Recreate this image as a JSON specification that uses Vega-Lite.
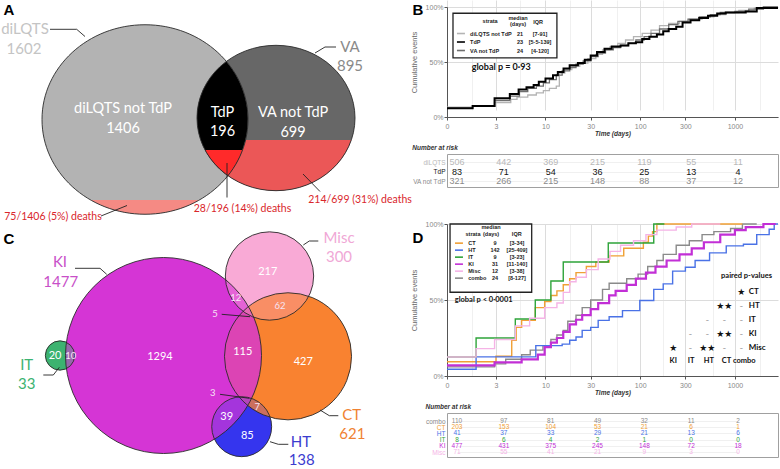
{
"$schema":"https://vega.github.io/schema/vega-lite/v6.json",
"padding":0,
"autosize":{"type":"pad"},
"background":"white",
"config":{"font":"Liberation Sans","view":{"stroke":null},"text":{"font":"Lato"},"axis":{"labelFont":"Liberation Sans","titleFont":"Liberation Sans"}},
"datasets":{
"aSets":[{"set":"VA","n":895,"x":276,"y":118},{"set":"diLQTS","n":1602,"x":145,"y":119.5}],
"aLeaders":[{"id":"L1","i":1,"x":50,"y":29.3},{"id":"L1","i":2,"x":76.7,"y":29.3},{"id":"L1","i":3,"x":85,"y":36.5},{"id":"L2","i":1,"x":315,"y":53},{"id":"L2","i":2,"x":325,"y":47},{"id":"L2","i":3,"x":336,"y":47},{"id":"L3","i":1,"x":101,"y":216},{"id":"L3","i":2,"x":127,"y":205.5},{"id":"L4","i":1,"x":227,"y":163},{"id":"L4","i":2,"x":227,"y":197.5},{"id":"L5","i":1,"x":303,"y":174},{"id":"L5","i":2,"x":320,"y":191.5}],
"aText":[{"t":"diLQTS not TdP","g":"inner","x":123,"y":109},{"t":"1406","g":"inner","x":123,"y":128.5},{"t":"TdP","g":"inner","x":222.5,"y":112.5},{"t":"196","g":"inner","x":222.5,"y":132},{"t":"VA not TdP","g":"inner","x":293,"y":113},{"t":"699","g":"inner","x":293,"y":132.5},{"t":"diLQTS","g":"diLQTS","x":25,"y":29},{"t":"1602","g":"diLQTS","x":24,"y":49},{"t":"VA","g":"VA","x":350,"y":47},{"t":"895","g":"VA","x":350,"y":66},{"t":"75/1406 (5%) deaths","g":"death","x":53,"y":216.5},{"t":"28/196 (14%) deaths","g":"death","x":242.5,"y":208.5},{"t":"214/699 (31%) deaths","g":"death","x":360,"y":199.5},{"t":"A","g":"panel","x":9,"y":10},{"t":"B","g":"panel","x":418,"y":10}],
"cSets":[{"set":"Misc","n":300,"x":269.5,"y":46},{"set":"HT","n":138,"x":241.7,"y":196.7},{"set":"CT","n":621,"x":288,"y":126.3},{"set":"IT","n":33,"x":60,"y":125.5},{"set":"KI","n":1477,"x":163.5,"y":125.5}],
"cLeaders":[{"id":"KI","i":1,"x":75,"y":38.3},{"id":"KI","i":2,"x":100,"y":38.3},{"id":"KI","i":3,"x":106.7,"y":44.3},{"id":"Misc","i":1,"x":303.3,"y":15},{"id":"Misc","i":2,"x":309.3,"y":11},{"id":"Misc","i":3,"x":318.3,"y":11},{"id":"CT","i":1,"x":320,"y":180},{"id":"CT","i":2,"x":329.3,"y":185.7},{"id":"CT","i":3,"x":338.3,"y":185.7},{"id":"HT","i":1,"x":270,"y":211.7},{"id":"HT","i":2,"x":278.3,"y":214.3},{"id":"HT","i":3,"x":288.3,"y":214.3},{"id":"IT","i":1,"x":43.3,"y":145},{"id":"IT","i":2,"x":53.3,"y":145},{"id":"IT","i":3,"x":59.3,"y":137.3},{"id":"n5","i":1,"x":221.7,"y":84.3},{"id":"n5","i":2,"x":250,"y":86.7},{"id":"n3","i":1,"x":220,"y":164.3},{"id":"n3","i":2,"x":249.3,"y":168.3}],
"cNums":[{"n":1294,"x":160,"y":127.3},{"n":217,"x":267.7,"y":41.7},{"n":12,"x":235.7,"y":68.3},{"n":62,"x":280,"y":76},{"n":5,"x":215,"y":84.3},{"n":115,"x":242.7,"y":121.7},{"n":427,"x":303.3,"y":131.7},{"n":20,"x":55,"y":125.7},{"n":10,"x":70.7,"y":125.7},{"n":3,"x":212.7,"y":163.3},{"n":7,"x":257.3,"y":176.7},{"n":39,"x":226.7,"y":187.3},{"n":85,"x":247.3,"y":205.7}],
"cText":[{"t":"KI","set":"KI","x":60,"y":31.7},{"t":"1477","set":"KI","x":60.7,"y":51.7},{"t":"Misc","set":"Misc","x":339,"y":7.7},{"t":"300","set":"Misc","x":339,"y":26.7},{"t":"IT","set":"IT","x":26.7,"y":135},{"t":"33","set":"IT","x":26.7,"y":154},{"t":"CT","set":"CT","x":351.7,"y":185},{"t":"621","set":"CT","x":352.3,"y":204.3},{"t":"HT","set":"HT","x":301,"y":211.7},{"t":"138","set":"HT","x":301.7,"y":230},{"t":"C","set":"panel","x":9,"y":9},{"t":"D","set":"panel","x":418,"y":8}],
"bKM":[
{"s":"diLQTS not TdP","t":0.912,"p":9},{"s":"diLQTS not TdP","t":1.7,"p":10},{"s":"diLQTS not TdP","t":2.9,"p":13},{"s":"diLQTS not TdP","t":4.3,"p":16},{"s":"diLQTS not TdP","t":5,"p":18},{"s":"diLQTS not TdP","t":6.5,"p":20},{"s":"diLQTS not TdP","t":8,"p":22},{"s":"diLQTS not TdP","t":9.5,"p":24},{"s":"diLQTS not TdP","t":11,"p":26},{"s":"diLQTS not TdP","t":13,"p":28},{"s":"diLQTS not TdP","t":14,"p":40},{"s":"diLQTS not TdP","t":16,"p":43},{"s":"diLQTS not TdP","t":19,"p":46},{"s":"diLQTS not TdP","t":23,"p":49},{"s":"diLQTS not TdP","t":28,"p":53},{"s":"diLQTS not TdP","t":34,"p":57},{"s":"diLQTS not TdP","t":40,"p":61},{"s":"diLQTS not TdP","t":48,"p":64},{"s":"diLQTS not TdP","t":58,"p":67},{"s":"diLQTS not TdP","t":70,"p":70},{"s":"diLQTS not TdP","t":85,"p":73},{"s":"diLQTS not TdP","t":105,"p":76},{"s":"diLQTS not TdP","t":130,"p":79},{"s":"diLQTS not TdP","t":160,"p":83},{"s":"diLQTS not TdP","t":200,"p":85},{"s":"diLQTS not TdP","t":260,"p":87},{"s":"diLQTS not TdP","t":330,"p":89},{"s":"diLQTS not TdP","t":450,"p":91},{"s":"diLQTS not TdP","t":600,"p":93},{"s":"diLQTS not TdP","t":800,"p":95},{"s":"diLQTS not TdP","t":1100,"p":97},{"s":"diLQTS not TdP","t":1600,"p":99},{"s":"diLQTS not TdP","t":2000,"p":100},{"s":"diLQTS not TdP","t":2851,"p":100},
{"s":"VA not TdP","t":0.912,"p":8},{"s":"VA not TdP","t":1.7,"p":10},{"s":"VA not TdP","t":2.9,"p":15},{"s":"VA not TdP","t":4.2,"p":19},{"s":"VA not TdP","t":5.3,"p":23},{"s":"VA not TdP","t":6.5,"p":26},{"s":"VA not TdP","t":8,"p":28},{"s":"VA not TdP","t":9.5,"p":31},{"s":"VA not TdP","t":11,"p":34},{"s":"VA not TdP","t":13,"p":38},{"s":"VA not TdP","t":15,"p":42},{"s":"VA not TdP","t":18,"p":45},{"s":"VA not TdP","t":21,"p":48},{"s":"VA not TdP","t":25,"p":51},{"s":"VA not TdP","t":30,"p":55},{"s":"VA not TdP","t":36,"p":58},{"s":"VA not TdP","t":43,"p":61},{"s":"VA not TdP","t":52,"p":63},{"s":"VA not TdP","t":62,"p":65},{"s":"VA not TdP","t":75,"p":67},{"s":"VA not TdP","t":90,"p":70},{"s":"VA not TdP","t":110,"p":73},{"s":"VA not TdP","t":130,"p":76},{"s":"VA not TdP","t":160,"p":80},{"s":"VA not TdP","t":200,"p":84},{"s":"VA not TdP","t":250,"p":87},{"s":"VA not TdP","t":320,"p":89},{"s":"VA not TdP","t":420,"p":91},{"s":"VA not TdP","t":550,"p":93},{"s":"VA not TdP","t":700,"p":95},{"s":"VA not TdP","t":1000,"p":96},{"s":"VA not TdP","t":1400,"p":98},{"s":"VA not TdP","t":2000,"p":100},{"s":"VA not TdP","t":2851,"p":100},
{"s":"TdP","t":0.912,"p":8},{"s":"TdP","t":1.7,"p":10},{"s":"TdP","t":2.9,"p":17},{"s":"TdP","t":4.2,"p":21},{"s":"TdP","t":5.2,"p":25},{"s":"TdP","t":6.3,"p":27},{"s":"TdP","t":7.5,"p":29},{"s":"TdP","t":8.5,"p":32},{"s":"TdP","t":10,"p":35},{"s":"TdP","t":12,"p":38},{"s":"TdP","t":13.5,"p":41},{"s":"TdP","t":15.5,"p":44},{"s":"TdP","t":18,"p":47},{"s":"TdP","t":22,"p":49},{"s":"TdP","t":26,"p":52},{"s":"TdP","t":30,"p":56},{"s":"TdP","t":35,"p":59},{"s":"TdP","t":42,"p":62},{"s":"TdP","t":50,"p":64},{"s":"TdP","t":62,"p":65},{"s":"TdP","t":75,"p":67},{"s":"TdP","t":90,"p":68},{"s":"TdP","t":105,"p":71},{"s":"TdP","t":125,"p":73},{"s":"TdP","t":150,"p":75},{"s":"TdP","t":175,"p":78},{"s":"TdP","t":200,"p":80},{"s":"TdP","t":240,"p":82},{"s":"TdP","t":280,"p":86},{"s":"TdP","t":340,"p":88},{"s":"TdP","t":420,"p":90},{"s":"TdP","t":520,"p":92},{"s":"TdP","t":650,"p":94},{"s":"TdP","t":800,"p":95},{"s":"TdP","t":1300,"p":96},{"s":"TdP","t":1700,"p":99},{"s":"TdP","t":2851,"p":99}],
"bLeg":[{"s":"diLQTS not TdP","m":"21","q":"[7-91]"},{"s":"TdP","m":"23","q":"[5·5-139]"},{"s":"VA not TdP","m":"24","q":"[4-120]"}],
"bRisk":[
{"s":"diLQTS","time":0,"n":506},{"s":"diLQTS","time":3,"n":442},{"s":"diLQTS","time":10,"n":369},{"s":"diLQTS","time":30,"n":215},{"s":"diLQTS","time":100,"n":119},{"s":"diLQTS","time":300,"n":55},{"s":"diLQTS","time":1000,"n":11},
{"s":"TdP","time":0,"n":83},{"s":"TdP","time":3,"n":71},{"s":"TdP","time":10,"n":54},{"s":"TdP","time":30,"n":36},{"s":"TdP","time":100,"n":25},{"s":"TdP","time":300,"n":13},{"s":"TdP","time":1000,"n":4},
{"s":"VA not TdP","time":0,"n":321},{"s":"VA not TdP","time":3,"n":266},{"s":"VA not TdP","time":10,"n":215},{"s":"VA not TdP","time":30,"n":148},{"s":"VA not TdP","time":100,"n":88},{"s":"VA not TdP","time":300,"n":37},{"s":"VA not TdP","time":1000,"n":12}],
"dKM":[
{"s":"combo","t":0.912,"p":6},{"s":"combo","t":2.9,"p":8},{"s":"combo","t":3.8,"p":11},{"s":"combo","t":5.6,"p":14},{"s":"combo","t":6.9,"p":17},{"s":"combo","t":9.4,"p":20},{"s":"combo","t":11.4,"p":24},{"s":"combo","t":13.2,"p":27},{"s":"combo","t":15.4,"p":30},{"s":"combo","t":17.2,"p":36},{"s":"combo","t":21,"p":40},{"s":"combo","t":24.4,"p":45},{"s":"combo","t":30,"p":50},{"s":"combo","t":40,"p":57},{"s":"combo","t":47,"p":61},{"s":"combo","t":72,"p":64},{"s":"combo","t":95,"p":67},{"s":"combo","t":120,"p":72},{"s":"combo","t":150,"p":76},{"s":"combo","t":175,"p":80},{"s":"combo","t":240,"p":86},{"s":"combo","t":330,"p":89},{"s":"combo","t":450,"p":93},{"s":"combo","t":600,"p":95},{"s":"combo","t":900,"p":97},{"s":"combo","t":1200,"p":100},{"s":"combo","t":1700,"p":100},
{"s":"CT","t":0.912,"p":9.4},{"s":"CT","t":3,"p":13},{"s":"CT","t":4.4,"p":23.5},{"s":"CT","t":4.9,"p":32},{"s":"CT","t":5.6,"p":36.6},{"s":"CT","t":7.8,"p":45},{"s":"CT","t":9.8,"p":49},{"s":"CT","t":11.4,"p":53},{"s":"CT","t":13.2,"p":56},{"s":"CT","t":15.4,"p":60},{"s":"CT","t":18,"p":64},{"s":"CT","t":21,"p":68},{"s":"CT","t":27,"p":72},{"s":"CT","t":34,"p":75},{"s":"CT","t":47,"p":79},{"s":"CT","t":67,"p":84},{"s":"CT","t":108,"p":88},{"s":"CT","t":122,"p":92},{"s":"CT","t":135,"p":95},{"s":"CT","t":150,"p":100},{"s":"CT","t":1200,"p":100},
{"s":"HT","t":0.912,"p":4.4},{"s":"HT","t":1.85,"p":12.6},{"s":"HT","t":7.9,"p":20},{"s":"HT","t":15,"p":21},{"s":"HT","t":18,"p":23.5},{"s":"HT","t":21,"p":25.7},{"s":"HT","t":24.4,"p":30},{"s":"HT","t":30,"p":32},{"s":"HT","t":36,"p":36.6},{"s":"HT","t":47,"p":39},{"s":"HT","t":65,"p":43},{"s":"HT","t":99,"p":49.7},{"s":"HT","t":139,"p":57},{"s":"HT","t":175,"p":60.6},{"s":"HT","t":220,"p":69},{"s":"HT","t":300,"p":71.5},{"s":"HT","t":380,"p":76},{"s":"HT","t":540,"p":81},{"s":"HT","t":810,"p":85.6},{"s":"HT","t":1230,"p":86.7},{"s":"HT","t":1700,"p":93},{"s":"HT","t":2300,"p":96.5},{"s":"HT","t":2600,"p":100},{"s":"HT","t":2851,"p":100},
{"s":"IT","t":0.912,"p":12.5},{"s":"IT","t":1.85,"p":25},{"s":"IT","t":4.8,"p":37.5},{"s":"IT","t":7.8,"p":50},{"s":"IT","t":11.4,"p":62.5},{"s":"IT","t":15.4,"p":75},{"s":"IT","t":46,"p":87.5},{"s":"IT","t":139,"p":100},{"s":"IT","t":180,"p":100},
{"s":"Misc","t":0.912,"p":12.5},{"s":"Misc","t":1.85,"p":18},{"s":"Misc","t":2.9,"p":24},{"s":"Misc","t":4.8,"p":33},{"s":"Misc","t":6.8,"p":38},{"s":"Misc","t":9.8,"p":45},{"s":"Misc","t":13.2,"p":48},{"s":"Misc","t":15.4,"p":55},{"s":"Misc","t":18,"p":62},{"s":"Misc","t":21,"p":65},{"s":"Misc","t":27,"p":70},{"s":"Misc","t":36,"p":77},{"s":"Misc","t":48,"p":82},{"s":"Misc","t":62,"p":86},{"s":"Misc","t":85,"p":89},{"s":"Misc","t":115,"p":93},{"s":"Misc","t":150,"p":96},{"s":"Misc","t":240,"p":98},{"s":"Misc","t":350,"p":100},{"s":"Misc","t":700,"p":100},
{"s":"KI","t":0.912,"p":7},{"s":"KI","t":2.9,"p":9},{"s":"KI","t":5.6,"p":11},{"s":"KI","t":8.3,"p":14},{"s":"KI","t":9.8,"p":19},{"s":"KI","t":11.4,"p":22},{"s":"KI","t":13.2,"p":25},{"s":"KI","t":15.4,"p":29},{"s":"KI","t":18,"p":34},{"s":"KI","t":21,"p":37},{"s":"KI","t":24.4,"p":40},{"s":"KI","t":30,"p":44},{"s":"KI","t":36,"p":48},{"s":"KI","t":47,"p":53},{"s":"KI","t":55,"p":56},{"s":"KI","t":72,"p":60},{"s":"KI","t":90,"p":64},{"s":"KI","t":115,"p":68},{"s":"KI","t":145,"p":72},{"s":"KI","t":190,"p":76},{"s":"KI","t":260,"p":80},{"s":"KI","t":350,"p":84},{"s":"KI","t":470,"p":88},{"s":"KI","t":700,"p":93},{"s":"KI","t":1000,"p":96},{"s":"KI","t":1300,"p":98},{"s":"KI","t":2000,"p":100},{"s":"KI","t":2700,"p":100}],
"dLeg":[{"s":"CT","m":"9","q":"[3-34]"},{"s":"HT","m":"142","q":"[25-409]"},{"s":"IT","m":"9","q":"[3-23]"},{"s":"KI","m":"31","q":"[11-140]"},{"s":"Misc","m":"12","q":"[3-38]"},{"s":"combo","m":"24","q":"[8-127]"}],
"dRisk":[
{"s":"combo","time":0,"n":110},{"s":"combo","time":3,"n":97},{"s":"combo","time":10,"n":81},{"s":"combo","time":30,"n":49},{"s":"combo","time":100,"n":32},{"s":"combo","time":300,"n":11},{"s":"combo","time":1000,"n":2},
{"s":"CT","time":0,"n":203},{"s":"CT","time":3,"n":153},{"s":"CT","time":10,"n":104},{"s":"CT","time":30,"n":53},{"s":"CT","time":100,"n":21},{"s":"CT","time":300,"n":6},{"s":"CT","time":1000,"n":1},
{"s":"HT","time":0,"n":41},{"s":"HT","time":3,"n":37},{"s":"HT","time":10,"n":33},{"s":"HT","time":30,"n":29},{"s":"HT","time":100,"n":21},{"s":"HT","time":300,"n":13},{"s":"HT","time":1000,"n":6},
{"s":"IT","time":0,"n":8},{"s":"IT","time":3,"n":6},{"s":"IT","time":10,"n":4},{"s":"IT","time":30,"n":2},{"s":"IT","time":100,"n":1},{"s":"IT","time":300,"n":0},{"s":"IT","time":1000,"n":0},
{"s":"KI","time":0,"n":477},{"s":"KI","time":3,"n":431},{"s":"KI","time":10,"n":375},{"s":"KI","time":30,"n":245},{"s":"KI","time":100,"n":148},{"s":"KI","time":300,"n":72},{"s":"KI","time":1000,"n":18},
{"s":"Misc","time":0,"n":71},{"s":"Misc","time":3,"n":55},{"s":"Misc","time":10,"n":41},{"s":"Misc","time":30,"n":21},{"s":"Misc","time":100,"n":9},{"s":"Misc","time":300,"n":3},{"s":"Misc","time":1000,"n":0}],
"dPair":[{"row":"CT","col":"combo","sig":"★"},{"row":"HT","col":"CT","sig":"★★"},{"row":"HT","col":"combo","sig":"-"},{"row":"IT","col":"HT","sig":"-"},{"row":"IT","col":"CT","sig":"-"},{"row":"IT","col":"combo","sig":"-"},{"row":"KI","col":"IT","sig":"-"},{"row":"KI","col":"HT","sig":"-"},{"row":"KI","col":"CT","sig":"★★"},{"row":"KI","col":"combo","sig":"-"},{"row":"Misc","col":"KI","sig":"★"},{"row":"Misc","col":"IT","sig":"-"},{"row":"Misc","col":"HT","sig":"★★"},{"row":"Misc","col":"CT","sig":"-"},{"row":"Misc","col":"combo","sig":"-"}],
"dRows":[{"row":"CT"},{"row":"HT"},{"row":"IT"},{"row":"KI"},{"row":"Misc"}],
"dCols":[{"col":"KI"},{"col":"IT"},{"col":"HT"},{"col":"CT"},{"col":"combo"}]
},
"spacing":7,
"bounds":"flush",
"resolve":{"scale":{"x":"independent","y":"independent","color":"independent","fill":"independent","size":"independent","xOffset":"independent","yOffset":"independent"}},
"hconcat":[
{"width":440,"height":469,
"encoding":{"x":{"field":"x","type":"quantitative","scale":{"domain":[0,440],"nice":false,"zero":false},"axis":null}},
"resolve":{"scale":{"y":"independent","size":"independent","fill":"independent","color":"independent"}},
"layer":[
{"encoding":{"y":{"field":"y","type":"quantitative","scale":{"domain":[0,230],"range":[0,230],"nice":false,"zero":false},"axis":null}},
"layer":[
{"data":{"name":"aSets"},"transform":[{"filter":"datum.set == 'VA'"}],"mark":{"type":"point","shape":"M 1 0 C 1 0.5081 0.5523 0.92 0 0.92 C -0.5523 0.92 -1 0.5081 -1 0 C -1 -0.5081 -0.5523 -0.92 0 -0.92 C 0.5523 -0.92 1 -0.5081 1 0 Z","filled":true,"fill":"#676767","opacity":1},"encoding":{"size":{"field":"n","type":"quantitative","scale":{"domain":[895,1602],"range":[24964,42436],"zero":false,"nice":false},"legend":null}}},
{"data":{"name":"aSets"},"transform":[{"filter":"datum.set == 'VA'"}],"mark":{"type":"point","shape":"M -0.9531 0.2785 A 1 0.92 0 0 0 0.9531 0.2785 Z","filled":true,"fill":"#eb5757","opacity":1},"encoding":{"size":{"field":"n","type":"quantitative","scale":{"domain":[895,1602],"range":[24964,42436],"zero":false,"nice":false},"legend":null}}},
{"data":{"name":"aSets"},"transform":[{"filter":"datum.set == 'diLQTS'"}],"mark":{"type":"point","shape":"M 1 0 C 1 0.5081 0.5523 0.92 0 0.92 C -0.5523 0.92 -1 0.5081 -1 0 C -1 -0.5081 -0.5523 -0.92 0 -0.92 C 0.5523 -0.92 1 -0.5081 1 0 Z","filled":true,"fill":"#b3b3b3","opacity":1},"encoding":{"size":{"field":"n","type":"quantitative","scale":{"domain":[895,1602],"range":[24964,42436],"zero":false,"nice":false},"legend":null}}},
{"data":{"name":"aSets"},"transform":[{"filter":"datum.set == 'diLQTS'"}],"mark":{"type":"point","shape":"M -0.5275 0.7816 A 1 0.92 0 0 0 0.5275 0.7816 Z","filled":true,"fill":"#f58a84","opacity":1},"encoding":{"size":{"field":"n","type":"quantitative","scale":{"domain":[895,1602],"range":[24964,42436],"zero":false,"nice":false},"legend":null}}},
{"data":{"name":"aSets"},"transform":[{"filter":"datum.set == 'VA'"}],"mark":{"type":"point","shape":"M -0.6278 -0.7158 A 1 0.92 0 0 0 -0.6084 0.73 A 1.3038 1.1995 0 0 0 -0.6278 -0.7158 Z","filled":true,"fill":"#000000","opacity":1},"encoding":{"size":{"field":"n","type":"quantitative","scale":{"domain":[895,1602],"range":[24964,42436],"zero":false,"nice":false},"legend":null}}},
{"data":{"name":"aSets"},"transform":[{"filter":"datum.set == 'VA'"}],"mark":{"type":"point","shape":"M -0.8978 0.4051 A 1 0.92 0 0 0 -0.6084 0.73 A 1.3038 1.1995 0 0 0 -0.4238 0.4051 Z","filled":true,"fill":"#ff2a2a","opacity":1},"encoding":{"size":{"field":"n","type":"quantitative","scale":{"domain":[895,1602],"range":[24964,42436],"zero":false,"nice":false},"legend":null}}},
{"data":{"name":"aSets"},"mark":{"type":"point","shape":"M 1 0 C 1 0.5081 0.5523 0.92 0 0.92 C -0.5523 0.92 -1 0.5081 -1 0 C -1 -0.5081 -0.5523 -0.92 0 -0.92 C 0.5523 -0.92 1 -0.5081 1 0 Z","filled":false,"stroke":"#2a2a2a","strokeWidth":0.9,"opacity":1},"encoding":{"size":{"field":"n","type":"quantitative","scale":{"domain":[895,1602],"range":[24964,42436],"zero":false,"nice":false},"legend":null}}},
{"data":{"name":"aLeaders"},"mark":{"type":"line","color":"#222222","strokeWidth":0.9},"encoding":{"detail":{"field":"id"},"order":{"field":"i"}}},
{"data":{"name":"aText"},"transform":[{"filter":"datum.g == 'inner'"}],"mark":{"type":"text","fontSize":14.5,"color":"white","font":"Lato"},"encoding":{"text":{"field":"t"}}},
{"data":{"name":"aText"},"transform":[{"filter":"datum.g == 'diLQTS'"}],"mark":{"type":"text","fontSize":15,"color":"#c4c4c4","font":"Lato"},"encoding":{"text":{"field":"t"}}},
{"data":{"name":"aText"},"transform":[{"filter":"datum.g == 'VA'"}],"mark":{"type":"text","fontSize":15,"color":"#8a8a8a","font":"Lato"},"encoding":{"text":{"field":"t"}}},
{"data":{"name":"aText"},"transform":[{"filter":"datum.g == 'death'"}],"mark":{"type":"text","fontSize":10.5,"color":"#d9262b","font":"Lato"},"encoding":{"text":{"field":"t"}}},
{"data":{"name":"aText"},"transform":[{"filter":"datum.g == 'panel'"}],"mark":{"type":"text","fontSize":15,"fontWeight":"bold","color":"#000000","font":"Liberation Sans"},"encoding":{"text":{"field":"t"}}}
]},
{"encoding":{"y":{"field":"y","type":"quantitative","scale":{"domain":[0,239],"range":[230,469],"nice":false,"zero":false},"axis":null}},
"layer":[
{"data":{"name":"cSets"},"mark":{"type":"point","shape":"circle","filled":true,"opacity":1},"encoding":{"size":{"field":"n","type":"quantitative","scale":{"domain":[0,1477],"range":[0,38416]},"legend":null},"fill":{"field":"set","type":"nominal","scale":{"domain":["KI","Misc","CT","HT","IT"],"range":["#d535d5","#f9aad6","#f98330","#3636ee","#3cb371"]},"legend":null}}},
{"data":{"name":"cSets"},"transform":[{"filter":"datum.set == 'Misc'"}],"mark":{"type":"point","shape":"circle","filled":true,"opacity":0.4},"encoding":{"size":{"field":"n","type":"quantitative","scale":{"domain":[0,1477],"range":[0,38416]},"legend":null},"fill":{"field":"set","type":"nominal","scale":{"domain":["KI","Misc","CT","HT","IT"],"range":["#d535d5","#f9aad6","#f98330","#3636ee","#3cb371"]},"legend":null}}},
{"data":{"name":"cSets"},"transform":[{"filter":"datum.set == 'HT'"}],"mark":{"type":"point","shape":"circle","filled":true,"opacity":0.3},"encoding":{"size":{"field":"n","type":"quantitative","scale":{"domain":[0,1477],"range":[0,38416]},"legend":null},"fill":{"field":"set","type":"nominal","scale":{"domain":["KI","Misc","CT","HT","IT"],"range":["#d535d5","#f9aad6","#f98330","#3636ee","#3cb371"]},"legend":null}}},
{"data":{"name":"cSets"},"transform":[{"filter":"datum.set == 'CT'"}],"mark":{"type":"point","shape":"circle","filled":true,"opacity":0.2},"encoding":{"size":{"field":"n","type":"quantitative","scale":{"domain":[0,1477],"range":[0,38416]},"legend":null},"fill":{"field":"set","type":"nominal","scale":{"domain":["KI","Misc","CT","HT","IT"],"range":["#d535d5","#f9aad6","#f98330","#3636ee","#3cb371"]},"legend":null}}},
{"data":{"name":"cSets"},"transform":[{"filter":"datum.set == 'IT'"}],"mark":{"type":"point","shape":"circle","filled":true,"opacity":0.4},"encoding":{"size":{"field":"n","type":"quantitative","scale":{"domain":[0,1477],"range":[0,38416]},"legend":null},"fill":{"field":"set","type":"nominal","scale":{"domain":["KI","Misc","CT","HT","IT"],"range":["#d535d5","#f9aad6","#f98330","#3636ee","#3cb371"]},"legend":null}}},
{"data":{"name":"cSets"},"mark":{"type":"point","shape":"circle","filled":false,"stroke":"#2a2a2a","strokeWidth":0.9,"opacity":1},"encoding":{"size":{"field":"n","type":"quantitative","scale":{"domain":[0,1477],"range":[0,38416]},"legend":null}}},
{"data":{"name":"cLeaders"},"mark":{"type":"line","color":"#222222","strokeWidth":0.9},"encoding":{"detail":{"field":"id"},"order":{"field":"i"}}},
{"data":{"name":"cNums"},"transform":[{"filter":"indexof([12,62,5,3,7,10], datum.n) < 0"}],"mark":{"type":"text","fontSize":11,"color":"white","font":"Lato"},"encoding":{"text":{"field":"n","type":"quantitative"}}},
{"data":{"name":"cNums"},"transform":[{"filter":"indexof([12,62,5,3,7,10], datum.n) >= 0"}],"mark":{"type":"text","fontSize":9.5,"color":"#f6e4f4","font":"Lato"},"encoding":{"text":{"field":"n","type":"quantitative"}}},
{"data":{"name":"cText"},"transform":[{"filter":"datum.set != 'panel'"}],"mark":{"type":"text","fontSize":15,"font":"Lato"},"encoding":{"text":{"field":"t"},"color":{"field":"set","type":"nominal","scale":{"domain":["KI","Misc","IT","CT","HT"],"range":["#c84fc8","#f0a8d6","#3cb371","#f08232","#3c3ccf"]},"legend":null}}},
{"data":{"name":"cText"},"transform":[{"filter":"datum.set == 'panel'"}],"mark":{"type":"text","fontSize":15,"fontWeight":"bold","color":"#000000","font":"Liberation Sans"},"encoding":{"text":{"field":"t"}}}
]}
]},
{"vconcat":[
{"width":331,"height":117,
"layer":[
{"encoding":{"x":{"field":"t","type":"quantitative","scale":{"type":"log","domain":[0.912,2851],"nice":false},"axis":{"title":"Time (days)","titleFontStyle":"italic","titleFontWeight":"bold","titleFontSize":6.5,"titleColor":"#333333","titlePadding":1,"values":[0.912,1.68,3,5.38,10,18,30,57.2,100,173,300,587,1000,1838],"labelExpr":"datum.value < 1 ? '0' : (indexof([3,10,30,100,300,1000], datum.value) >= 0 ? '' + datum.value : '')","labelFlush":false,"labelOverlap":false,"labelFontSize":7,"labelPadding":2,"labelColor":"#888888","grid":true,"gridColor":{"condition":{"test":"indexof([0.912,3,10,30,100,300,1000], datum.value) < 0","value":"#f0f0f0"},"value":"#dcdcdc"},"tickSize":{"condition":{"test":"indexof([0.912,3,10,30,100,300,1000], datum.value) < 0","value":0},"value":3},"domainColor":"#555555","tickColor":"#555555"}},
"y":{"field":"p","type":"quantitative","scale":{"domain":[0,100],"nice":false,"range":[117,7]},"axis":{"title":"Cumulative events","titleFontSize":7.5,"titleColor":"#666666","titleFontWeight":"normal","titlePadding":7,"values":[0,12.5,25,37.5,50,62.5,75,87.5,100],"labelExpr":"datum.value % 25 == 0 ? datum.value + '%' : ''","labelFontSize":7,"labelColor":"#888888","labelPadding":1,"grid":true,"gridColor":{"condition":{"test":"datum.value % 25 != 0","value":"#f0f0f0"},"value":"#dcdcdc"},"tickSize":{"condition":{"test":"datum.value % 25 != 0","value":0},"value":3},"domainColor":"#555555","tickColor":"#555555"}}},
"layer":[
{"data":{"name":"bKM"},"transform":[{"filter":"datum.s != 'TdP'"}],"mark":{"type":"line","interpolate":"step-after","strokeWidth":1.3},"encoding":{"color":{"field":"s","type":"nominal","scale":{"domain":["diLQTS not TdP","TdP","VA not TdP"],"range":["#b4b4b4","#000000","#6e6e6e"]},"legend":null}}},
{"data":{"name":"bKM"},"transform":[{"filter":"datum.s == 'TdP'"}],"mark":{"type":"line","interpolate":"step-after","strokeWidth":2},"encoding":{"color":{"field":"s","type":"nominal","scale":{"domain":["diLQTS not TdP","TdP","VA not TdP"],"range":["#b4b4b4","#000000","#6e6e6e"]},"legend":null}}}
]},
{"data":{"values":[{}]},"mark":{"type":"rect","fill":"white","stroke":"#222222","strokeWidth":1.3},"encoding":{"x":{"datum":1.055},"x2":{"datum":13.2},"y":{"datum":94.3},"y2":{"datum":53.8}}},
{"data":{"values":[{}]},"mark":{"type":"text","text":"strata","fontSize":5.5,"fontWeight":"bold","color":"#222222","font":"Liberation Sans"},"encoding":{"x":{"datum":2.6},"y":{"datum":87.6}}},
{"data":{"values":[{}]},"mark":{"type":"text","text":"median","fontSize":5.5,"fontWeight":"bold","color":"#222222","font":"Liberation Sans"},"encoding":{"x":{"datum":5.13},"y":{"datum":89.8}}},
{"data":{"values":[{}]},"mark":{"type":"text","text":"(days)","fontSize":5.5,"fontWeight":"bold","color":"#222222","font":"Liberation Sans"},"encoding":{"x":{"datum":5.13},"y":{"datum":84.7}}},
{"data":{"values":[{}]},"mark":{"type":"text","text":"IQR","fontSize":5.5,"fontWeight":"bold","color":"#222222","font":"Liberation Sans"},"encoding":{"x":{"datum":8.35},"y":{"datum":86.7}}},
{"data":{"name":"bLeg"},"mark":{"type":"point","shape":"stroke","filled":false,"size":64,"strokeWidth":1.6,"opacity":1},"encoding":{"x":{"datum":1.28},"y":{"datum":75.9},"yOffset":{"field":"s","type":"nominal","scale":{"type":"point","domain":["diLQTS not TdP","TdP","VA not TdP"],"range":[0,17],"padding":0}},"color":{"field":"s","type":"nominal","scale":{"domain":["diLQTS not TdP","TdP","VA not TdP"],"range":["#b4b4b4","#000000","#6e6e6e"]},"legend":null}}},
{"data":{"name":"bLeg"},"mark":{"type":"text","align":"left","fontSize":5.5,"fontWeight":"bold","color":"#222222","font":"Liberation Sans"},"encoding":{"x":{"datum":1.6},"y":{"datum":75.9},"yOffset":{"field":"s","type":"nominal","scale":{"type":"point","domain":["diLQTS not TdP","TdP","VA not TdP"],"range":[0,17],"padding":0}},"text":{"field":"s"}}},
{"data":{"name":"bLeg"},"mark":{"type":"text","fontSize":5.5,"fontWeight":"bold","color":"#222222","font":"Liberation Sans"},"encoding":{"x":{"datum":5.38},"y":{"datum":75.9},"yOffset":{"field":"s","type":"nominal","scale":{"type":"point","domain":["diLQTS not TdP","TdP","VA not TdP"],"range":[0,17],"padding":0}},"text":{"field":"m"}}},
{"data":{"name":"bLeg"},"mark":{"type":"text","fontSize":5.5,"fontWeight":"bold","color":"#222222","font":"Liberation Sans"},"encoding":{"x":{"datum":8.76},"y":{"datum":75.9},"yOffset":{"field":"s","type":"nominal","scale":{"type":"point","domain":["diLQTS not TdP","TdP","VA not TdP"],"range":[0,17],"padding":0}},"text":{"field":"q"}}},
{"data":{"values":[{}]},"mark":{"type":"text","text":"global p = 0·93","align":"left","fontSize":9,"fontWeight":"bold","color":"#111111","font":"Lato"},"encoding":{"x":{"datum":1.66},"y":{"datum":45.3}}}
]},
{"width":331,"height":33,
"view":{"stroke":"#a0a0a0"},
"title":{"text":"Number at risk","anchor":"start","fontSize":6.5,"fontStyle":"italic","fontWeight":"bold","color":"#333333","offset":3,"font":"Liberation Sans"},
"data":{"name":"bRisk"},
"mark":{"type":"text","fontSize":9,"font":"Liberation Sans"},
"encoding":{
"x":{"field":"time","type":"ordinal","scale":{"type":"point","domain":[0,3,10,30,100,300,1000],"range":[10,291],"padding":0},"axis":null},
"y":{"field":"s","type":"nominal","scale":{"type":"point","domain":["diLQTS","TdP","VA not TdP"],"range":[8,27],"padding":0},"axis":{"title":null,"domain":false,"ticks":false,"labelPadding":2,"labelFontSize":6.5,"labelColor":{"condition":[{"test":"datum.value == 'diLQTS'","value":"#b8b8b8"},{"test":"datum.value == 'TdP'","value":"#111111"}],"value":"#8a8a8a"},"grid":true,"gridColor":"#f0f0f0"}},
"text":{"field":"n","type":"quantitative"},
"color":{"field":"s","type":"nominal","scale":{"domain":["diLQTS","TdP","VA not TdP"],"range":["#b8b8b8","#111111","#8a8a8a"]},"legend":null}}},
{"width":331,"height":152,
"resolve":{"scale":{"xOffset":"independent","yOffset":"independent"}},
"layer":[
{"encoding":{"x":{"field":"t","type":"quantitative","scale":{"type":"log","domain":[0.912,2851],"nice":false},"axis":{"title":"Time (days)","titleFontStyle":"italic","titleFontWeight":"bold","titleFontSize":6.5,"titleColor":"#333333","titlePadding":1,"values":[0.912,1.68,3,5.38,10,18,30,57.2,100,173,300,587,1000,1838],"labelExpr":"datum.value < 1 ? '0' : (indexof([3,10,30,100,300,1000], datum.value) >= 0 ? '' + datum.value : '')","labelFlush":false,"labelOverlap":false,"labelFontSize":7,"labelPadding":2,"labelColor":"#888888","grid":true,"gridColor":{"condition":{"test":"indexof([0.912,3,10,30,100,300,1000], datum.value) < 0","value":"#f0f0f0"},"value":"#dcdcdc"},"tickSize":{"condition":{"test":"indexof([0.912,3,10,30,100,300,1000], datum.value) < 0","value":0},"value":3},"domainColor":"#555555","tickColor":"#555555"}},
"y":{"field":"p","type":"quantitative","scale":{"domain":[0,100],"nice":false},"axis":{"title":"Cumulative events","titleFontSize":7.5,"titleColor":"#666666","titleFontWeight":"normal","titlePadding":7,"values":[0,12.5,25,37.5,50,62.5,75,87.5,100],"labelExpr":"datum.value % 25 == 0 ? datum.value + '%' : ''","labelFontSize":7,"labelColor":"#888888","labelPadding":1,"grid":true,"gridColor":{"condition":{"test":"datum.value % 25 != 0","value":"#f0f0f0"},"value":"#dcdcdc"},"tickSize":{"condition":{"test":"datum.value % 25 != 0","value":0},"value":3},"domainColor":"#555555","tickColor":"#555555"}}},
"layer":[
{"data":{"name":"dKM"},"transform":[{"filter":"datum.s != 'KI'"}],"mark":{"type":"line","interpolate":"step-after","strokeWidth":1.4},"encoding":{"color":{"field":"s","type":"nominal","scale":{"domain":["CT","HT","IT","KI","Misc","combo"],"range":["#f0a035","#4a72e6","#2ea43a","#c22fd6","#f5b3e6","#8a8a8a"]},"legend":null}}},
{"data":{"name":"dKM"},"transform":[{"filter":"datum.s == 'KI'"}],"mark":{"type":"line","interpolate":"step-after","strokeWidth":2.2},"encoding":{"color":{"field":"s","type":"nominal","scale":{"domain":["CT","HT","IT","KI","Misc","combo"],"range":["#f0a035","#4a72e6","#2ea43a","#c22fd6","#f5b3e6","#8a8a8a"]},"legend":null}}}
]},
{"data":{"values":[{}]},"mark":{"type":"rect","fill":"white","stroke":"#222222","strokeWidth":1.3},"encoding":{"x":{"datum":0.982},"x2":{"datum":7.15},"y":{"datum":100},"y2":{"datum":55.1}}},
{"data":{"values":[{}]},"mark":{"type":"text","text":"median","fontSize":5.5,"fontWeight":"bold","color":"#222222","font":"Liberation Sans"},"encoding":{"x":{"datum":2.66},"y":{"datum":98}}},
{"data":{"values":[{}]},"mark":{"type":"text","text":"strata","fontSize":5.5,"fontWeight":"bold","color":"#222222","font":"Liberation Sans"},"encoding":{"x":{"datum":1.715},"y":{"datum":93.7}}},
{"data":{"values":[{}]},"mark":{"type":"text","text":"(days)","fontSize":5.5,"fontWeight":"bold","color":"#222222","font":"Liberation Sans"},"encoding":{"x":{"datum":2.66},"y":{"datum":93.7}}},
{"data":{"values":[{}]},"mark":{"type":"text","text":"IQR","fontSize":5.5,"fontWeight":"bold","color":"#222222","font":"Liberation Sans"},"encoding":{"x":{"datum":4.97},"y":{"datum":93.7}}},
{"data":{"name":"dLeg"},"mark":{"type":"point","shape":"stroke","filled":false,"size":64,"strokeWidth":1.6,"opacity":1},"encoding":{"x":{"datum":1.22},"y":{"datum":87.4},"yOffset":{"field":"s","type":"nominal","scale":{"type":"point","domain":["CT","HT","IT","KI","Misc","combo"],"range":[0,35],"padding":0}},"color":{"field":"s","type":"nominal","scale":{"domain":["CT","HT","IT","KI","Misc","combo"],"range":["#f0a035","#4a72e6","#2ea43a","#c22fd6","#f5b3e6","#8a8a8a"]},"legend":null}}},
{"data":{"name":"dLeg"},"mark":{"type":"text","align":"left","fontSize":5.5,"fontWeight":"bold","color":"#222222","font":"Liberation Sans"},"encoding":{"x":{"datum":1.53},"y":{"datum":87.4},"yOffset":{"field":"s","type":"nominal","scale":{"type":"point","domain":["CT","HT","IT","KI","Misc","combo"],"range":[0,35],"padding":0}},"text":{"field":"s"}}},
{"data":{"name":"dLeg"},"mark":{"type":"text","fontSize":5.5,"fontWeight":"bold","color":"#222222","font":"Liberation Sans"},"encoding":{"x":{"datum":2.93},"y":{"datum":87.4},"yOffset":{"field":"s","type":"nominal","scale":{"type":"point","domain":["CT","HT","IT","KI","Misc","combo"],"range":[0,35],"padding":0}},"text":{"field":"m"}}},
{"data":{"name":"dLeg"},"mark":{"type":"text","fontSize":5.5,"fontWeight":"bold","color":"#222222","font":"Liberation Sans"},"encoding":{"x":{"datum":5.0},"y":{"datum":87.4},"yOffset":{"field":"s","type":"nominal","scale":{"type":"point","domain":["CT","HT","IT","KI","Misc","combo"],"range":[0,35],"padding":0}},"text":{"field":"q"}}},
{"data":{"values":[{}]},"mark":{"type":"text","text":"global p < 0·0001","align":"left","fontSize":7.5,"fontWeight":"bold","color":"#111111","font":"Lato"},"encoding":{"x":{"datum":1.1},"y":{"datum":49.7}}},
{"data":{"values":[{}]},"mark":{"type":"text","text":"paired p-values","align":"right","fontSize":7.5,"fontWeight":"bold","color":"#111111","font":"Lato"},"encoding":{"x":{"datum":2461},"y":{"datum":65.6}}},
{"data":{"name":"dPair"},"mark":{"type":"text","fontSize":9,"font":"DejaVu Sans"},"encoding":{"x":{"datum":223.6},"xOffset":{"field":"col","type":"nominal","scale":{"type":"point","domain":["KI","IT","HT","CT","combo"],"range":[0,68],"padding":0}},"y":{"datum":55.1},"yOffset":{"field":"row","type":"nominal","scale":{"type":"point","domain":["CT","HT","IT","KI","Misc"],"range":[0,56],"padding":0}},"text":{"field":"sig"},"color":{"condition":{"test":"datum.sig == '-'","value":"#9a9a9a"},"value":"#111111"}}},
{"data":{"name":"dRows"},"mark":{"type":"text","align":"left","fontSize":8,"fontWeight":"bold","color":"#111111","font":"Lato"},"encoding":{"x":{"datum":1400},"y":{"datum":55.1},"yOffset":{"field":"row","type":"nominal","scale":{"type":"point","domain":["CT","HT","IT","KI","Misc"],"range":[0,56],"padding":0}},"text":{"field":"row"}}},
{"data":{"name":"dCols"},"mark":{"type":"text","fontSize":7.5,"fontWeight":"bold","color":"#111111","font":"Lato"},"encoding":{"x":{"datum":223.6},"xOffset":{"field":"col","type":"nominal","scale":{"type":"point","domain":["KI","IT","HT","CT","combo"],"range":[0,71],"padding":0}},"y":{"datum":9.8},"text":{"field":"col"}}}
]},
{"width":331,"height":44,
"view":{"stroke":"#a0a0a0"},
"title":{"text":"Number at risk","anchor":"start","fontSize":6.5,"fontStyle":"italic","fontWeight":"bold","color":"#333333","offset":3,"font":"Liberation Sans"},
"data":{"name":"dRisk"},
"mark":{"type":"text","fontSize":6.5,"font":"Liberation Sans"},
"encoding":{
"x":{"field":"time","type":"ordinal","scale":{"type":"point","domain":[0,3,10,30,100,300,1000],"range":[10,291],"padding":0},"axis":null},
"y":{"field":"s","type":"nominal","scale":{"type":"point","domain":["combo","CT","HT","IT","KI","Misc"],"range":[8,39],"padding":0},"axis":{"title":null,"domain":false,"ticks":false,"labelPadding":2,"labelFontSize":6.5,"labelColor":{"condition":[{"test":"datum.value == 'combo'","value":"#8a8a8a"},{"test":"datum.value == 'CT'","value":"#f0a035"},{"test":"datum.value == 'HT'","value":"#4a72e6"},{"test":"datum.value == 'IT'","value":"#2ea43a"},{"test":"datum.value == 'KI'","value":"#c22fd6"}],"value":"#f5b3e6"},"grid":true,"gridColor":"#f0f0f0"}},
"text":{"field":"n","type":"quantitative"},
"color":{"field":"s","type":"nominal","scale":{"domain":["combo","CT","HT","IT","KI","Misc"],"range":["#8a8a8a","#f0a035","#4a72e6","#2ea43a","#c22fd6","#f5b3e6"]},"legend":null}}}
],"spacing":37,"bounds":"flush","resolve":{"scale":{"x":"independent","y":"independent","color":"independent","fill":"independent","size":"independent","xOffset":"independent","yOffset":"independent"}}}
]
}
